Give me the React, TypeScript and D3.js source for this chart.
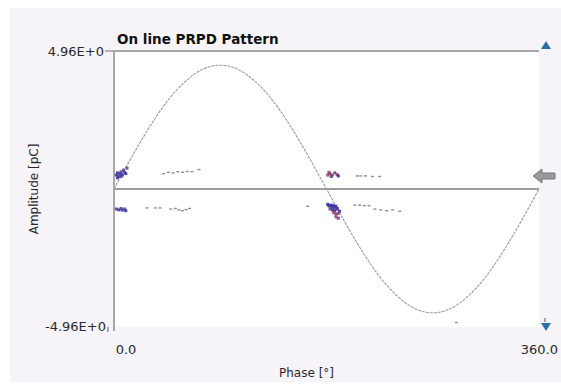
import React from "react";
import * as d3 from "d3";

// reference sine wave (phase deg, amplitude pC)
const wavePhase = [0, 15, 30, 45, 60, 75, 90, 105, 120, 135, 150, 165, 180, 195, 210, 225, 240, 255, 270, 285, 300, 315, 330, 345, 360];
const waveAmp = [0, 1.15, 2.22, 3.15, 3.85, 4.3, 4.45, 4.3, 3.85, 3.15, 2.22, 1.15, 0, -1.15, -2.22, -3.15, -3.85, -4.3, -4.45, -4.3, -3.85, -3.15, -2.22, -1.15, 0];

// discharge pulses: dense clusters (coloured) and sparse pulses (grey)
const clusterPhase = [2, 3, 4, 5, 6, 7, 8, 9, 10, 11, 3, 6, 2, 4, 6, 7, 9, 10, 181, 183, 185, 187, 189, 190, 182, 184, 181, 182, 183, 184, 185, 186, 187, 188, 189, 183, 185, 187, 189, 191, 186, 188, 190, 188, 190];
const clusterAmp = [0.5, 0.58, 0.45, 0.55, 0.62, 0.5, 0.68, 0.6, 0.55, 0.75, 0.4, 0.45, -0.72, -0.75, -0.7, -0.76, -0.72, -0.78, 0.5, 0.55, 0.5, 0.58, 0.52, 0.47, 0.6, 0.45, -0.55, -0.6, -0.62, -0.58, -0.65, -0.6, -0.68, -0.62, -0.7, -0.72, -0.75, -0.78, -0.72, -0.8, -0.85, -0.9, -0.88, -1.0, -1.05];
const clusterColor = ["b", "b", "p", "b", "p", "b", "p", "p", "b", "p", "b", "p", "p", "b", "p", "b", "p", "b", "r", "p", "r", "p", "r", "b", "r", "p", "b", "b", "p", "b", "b", "b", "p", "b", "b", "p", "b", "b", "p", "b", "r", "p", "r", "r", "p"];

const sparsePhase = [42, 46, 50, 54, 58, 62, 66, 72, 28, 35, 39, 48, 52, 55, 58, 61, 64, 206, 209, 213, 219, 225, 204, 208, 212, 216, 221, 226, 231, 236, 242, 164, 290];
const sparseAmp = [0.55, 0.6, 0.58, 0.62, 0.6, 0.63, 0.62, 0.7, -0.68, -0.68, -0.68, -0.72, -0.7, -0.75, -0.78, -0.74, -0.7, 0.47, 0.47, 0.47, 0.45, 0.45, -0.58, -0.58, -0.6, -0.6, -0.72, -0.75, -0.78, -0.75, -0.8, -0.62, -4.8];

const yMax = 4.96;
const yTickLabels = ["4.96E+0", "-4.96E+0"];
const xTickLabels = ["0.0", "360.0"];

const W = 561;
const H = 386;
const left = 114;
const right = 539;
const top = 51;
const bottom = 327;
const font = "'DejaVu Sans', Verdana, sans-serif";

const colors: Record<string, string> = { b: "#2c2c9e", p: "#5b3a8e", r: "#a23a55" };

export default function App() {
  const x = d3.scaleLinear().domain([0, 360]).range([left, right]);
  const y = d3.scaleLinear().domain([-yMax, yMax]).range([bottom, top]);

  const wave = d3
    .line<number>()
    .x((d, i) => x(wavePhase[i]))
    .y((d) => y(d))
    .curve(d3.curveNatural)(waveAmp);

  return (
    <svg width={W} height={H} style={{ position: "absolute", left: 0, top: 0 }}>
      <rect x={0} y={0} width={W} height={H} fill="#ffffff" />
      <rect x={10} y={8} width={W - 10} height={H - 12} fill="#f6f4f8" />
      <rect x={left} y={top} width={right - left} height={bottom - top} fill="#ffffff" />

      <text x={left + 3} y={top - 7} fontFamily={font} fontWeight="bold" fontSize={13.5} fill="#111">
        On line PRPD Pattern
      </text>

      {/* frame */}
      <line x1={left} x2={right} y1={top} y2={top} stroke="#a8a8a8" strokeWidth={2} />
      <line x1={left} x2={left} y1={top} y2={bottom + 4} stroke="#a8a8a8" strokeWidth={2} />
      <line x1={left - 9} x2={left} y1={top} y2={top} stroke="#777" strokeWidth={1} />
      <line x1={left - 6} x2={left - 6} y1={bottom} y2={bottom + 5} stroke="#555" strokeWidth={1} />
      <line x1={left} x2={right} y1={y(0)} y2={y(0)} stroke="#9c9c9c" strokeWidth={2} />

      {/* reference wave */}
      <path d={wave ?? ""} fill="none" stroke="#9a9a9a" strokeWidth={1.1} strokeDasharray="3 1" />

      {/* sparse pulses */}
      {sparsePhase.map((p, i) => (
        <rect key={"s" + i} x={x(p) - 1.5} y={y(sparseAmp[i]) - 0.7} width={3} height={1.4} fill="#6a6a6a" opacity={0.75} />
      ))}
      {/* cluster pulses */}
      {clusterPhase.map((p, i) => (
        <rect key={"c" + i} x={x(p) - 1.5} y={y(clusterAmp[i]) - 1.5} width={3} height={3} fill={colors[clusterColor[i]]} opacity={0.85} />
      ))}

      {/* axis labels */}
      <text x={left - 10} y={y(yMax) + 5} textAnchor="end" fontFamily={font} fontSize={13} fill="#2a2a2a">
        {yTickLabels[0]}
      </text>
      <text x={left - 8} y={y(-yMax) + 4} textAnchor="end" fontFamily={font} fontSize={13} fill="#2a2a2a">
        {yTickLabels[1]}
      </text>
      <text x={x(0) + 12} y={354} textAnchor="middle" fontFamily={font} fontSize={13} fill="#2a2a2a">
        {xTickLabels[0]}
      </text>
      <text x={x(360) + 19} y={354} textAnchor="end" fontFamily={font} fontSize={13} fill="#2a2a2a">
        {xTickLabels[1]}
      </text>
      <text x={(left + right) / 2 - 20} y={377} textAnchor="middle" fontFamily={font} fontSize={12} fill="#2a2a2a">
        Phase [°]
      </text>
      <text transform={`translate(38,${y(0)}) rotate(-90)`} textAnchor="middle" fontFamily={font} fontSize={12} fill="#2a2a2a">
        Amplitude [pC]
      </text>

      {/* cursor markers */}
      <path d={`M${546},${41} l-5,8 h10 z`} fill="#2a6fa8" />
      <path d={`M${546},${331} l-5,-8 h10 z`} fill="#2a6fa8" />
      <line x1={545} x2={545} y1={318} y2={322} stroke="#555" strokeWidth={1} />
      <path d={`M${533},${176} l9,-7 v4 h13 v6 h-13 v4 z`} fill="#9a9a9a" stroke="#777" strokeWidth={1} />
    </svg>
  );
}
